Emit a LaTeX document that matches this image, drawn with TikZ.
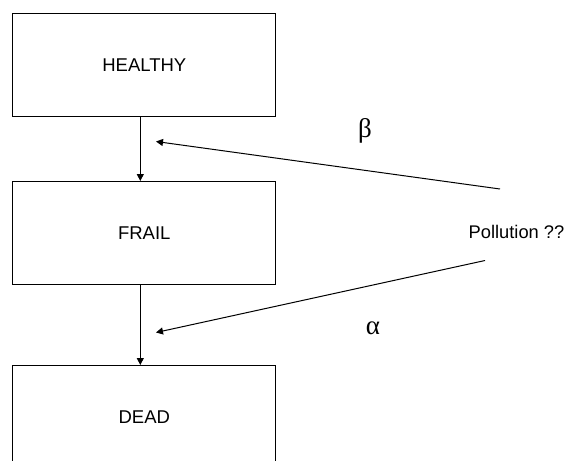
\documentclass[tikz,border=0pt]{standalone}
\usepackage{fontspec}
\setmainfont{Liberation Sans}
\newfontfamily\greekfont{Liberation Serif}
\usetikzlibrary{arrows.meta}
\begin{document}
\begin{tikzpicture}[x=1pt,y=-1pt,
  statebox/.style={draw,line width=1pt,minimum width=263pt,minimum height=103pt,inner sep=0pt,
    font=\fontsize{18.5}{22}\selectfont},
  conn/.style={line width=1pt,-{Triangle[length=7pt,width=7pt]}},
  greeklab/.style={font=\greekfont\fontsize{27}{30}\selectfont,inner sep=0pt}]
\clip (0,0) rectangle (566,461);
\fill[white] (0,0) rectangle (566,461);
\node[statebox] (h) at (144.3,65) {HEALTHY};
\node[statebox] (f) at (144.3,233) {FRAIL};
\node[statebox] (d) at (144.3,417) {DEAD};
\node[font=\fontsize{18.3}{22}\selectfont,inner sep=0pt] (p) at (516.5,231.5) {Pollution ??};
\coordinate (bs) at (500,189);
\coordinate (be) at (156,141.5);
\coordinate (as) at (485,260.5);
\coordinate (ae) at (156,332.5);
\draw[conn] ([xshift=-4pt]h.south) -- ([xshift=-4pt]f.north);
\draw[conn] ([xshift=-4pt]f.south) -- ([xshift=-4pt]d.north);
\draw[conn] (bs) -- (be);
\draw[conn] (as) -- (ae);
\node[greeklab] (beta) at (365,131) {β};
\node[greeklab] (alpha) at (373,328) {α};
\end{tikzpicture}
\end{document}
